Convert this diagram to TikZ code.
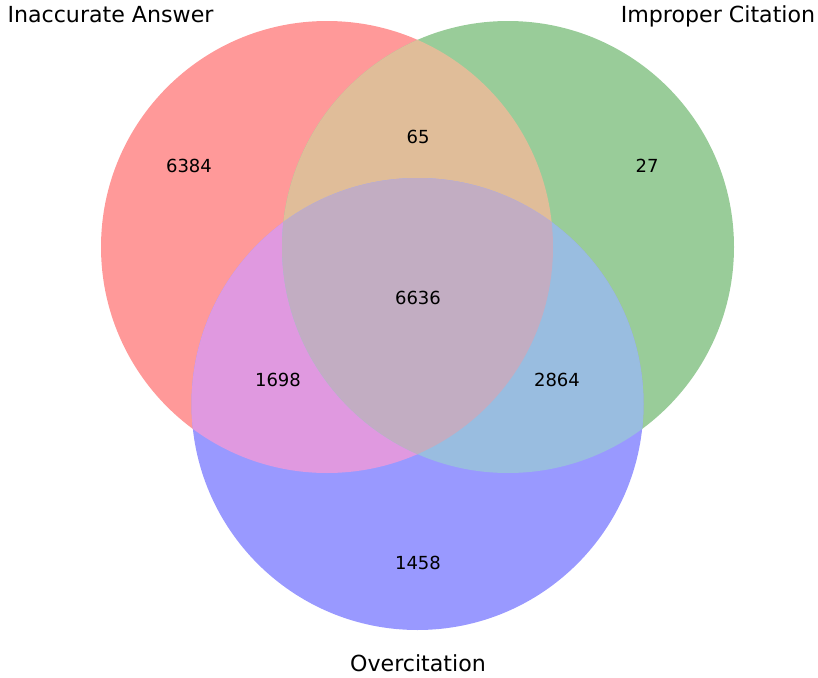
\documentclass[tikz,border=0pt]{standalone}
\usepackage{fontspec}
\setmainfont{DejaVu Sans}
\definecolor{inacc}{RGB}{255,153,153}
\definecolor{improp}{RGB}{153,204,153}
\definecolor{overc}{RGB}{153,153,255}
\definecolor{inaccimprop}{RGB}{224,189,153}
\definecolor{inaccoverc}{RGB}{224,153,224}
\definecolor{impropoverc}{RGB}{153,189,224}
\definecolor{allthree}{RGB}{194,173,194}
\def\setrad{226}

\begin{document}
\begin{tikzpicture}[x=0.75pt,y=-0.75pt,
  count/.style={font=\fontsize{13.5}{16}\selectfont},
  setname/.style={font=\fontsize{16.6}{20}\selectfont,anchor=base}]
%
\useasboundingbox (0,0) rectangle (818,678);
%
\coordinate (A) at (327,247);
\coordinate (B) at (508,247);
\coordinate (C) at (417.5,404);
%
\path[fill=inacc]  (A) circle (\setrad);
\path[fill=improp] (B) circle (\setrad);
\path[fill=overc]  (C) circle (\setrad);
%
\begin{scope}
\clip (A) circle (\setrad);
\path[fill=inaccimprop] (B) circle (\setrad);
\path[fill=inaccoverc]  (C) circle (\setrad);
\end{scope}
\begin{scope}
\clip (B) circle (\setrad);
\path[fill=impropoverc] (C) circle (\setrad);
\end{scope}
\begin{scope}
\clip (A) circle (\setrad);
\clip (B) circle (\setrad);
\path[fill=allthree] (C) circle (\setrad);
\end{scope}
%
\node [count] (nA)   at (189,166) {6384};
\node [count] (nAB)  at (418,137) {65};
\node [count] (nB)   at (647,166) {27};
\node [count] (nABC) at (418,298) {6636};
\node [count] (nAC)  at (278,380) {1698};
\node [count] (nBC)  at (557,380) {2864};
\node [count] (nC)   at (418,563) {1458};
%
\node [setname] (lA) at (110.5,22) {Inaccurate Answer};
\node [setname] (lB) at (718,22)   {Improper Citation};
\node [setname] (lC) at (418,671)  {Overcitation};
\end{tikzpicture}
\end{document}
